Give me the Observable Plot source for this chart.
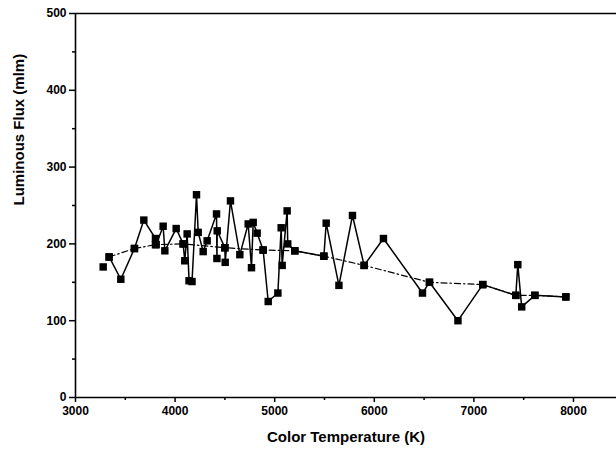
<!DOCTYPE html>
<html>
<head>
<meta charset="utf-8">
<script src="https://cdn.jsdelivr.net/npm/d3@7"></script>
<script src="https://cdn.jsdelivr.net/npm/@observablehq/plot@0.6"></script>
<style>
  html, body { margin: 0; padding: 0; background: #fff; }
  #chart { width: 616px; height: 456px; overflow: hidden; }
</style>
</head>
<body>
<div id="chart"></div>
<script>
// Series drawn with a solid line (color temperature K, luminous flux mlm)
const solidTemp = [3338, 3455, 3592, 3686, 3803, 3810, 3880, 3897, 4011, 4081, 4097, 4121, 4140, 4170, 4215, 4232, 4282, 4322, 4416, 4420, 4423, 4500, 4503, 4556, 4650, 4734, 4767, 4784, 4824, 4884, 4935, 5032, 5065, 5075, 5125, 5131, 5202, 5494, 5517, 5645, 5781, 5898, 6092, 6484, 6554, 6840, 7089, 7421, 7441, 7480, 7612, 7923];
const solidFlux = [183, 154, 194, 231, 207, 199, 223, 191, 220, 200, 178, 213, 152, 151, 264, 215, 190, 204, 239, 181, 217, 195, 176, 256, 186, 226, 169, 228, 214, 192, 125, 136, 221, 172, 243, 200, 191, 184, 227, 146, 237, 172, 207, 136, 150, 100, 147, 133, 173, 118, 133, 131];
// Series drawn with a dash-dot line
const dashTemp = [3338, 3592, 3803, 4081, 4500, 4884, 5202, 5494, 5898, 6554, 7089, 7421, 7612, 7923];
const dashFlux = [183, 194, 199, 200, 195, 192, 191, 184, 172, 150, 147, 133, 133, 131];
// Isolated first point
const loneTemp = [3278];
const loneFlux = [170];
// Axis ticks
const xMajorTicks = [3000, 4000, 5000, 6000, 7000, 8000];
const xMinorTicks = [3500, 4500, 5500, 6500, 7500];
const yMajorTicks = [0, 100, 200, 300, 400, 500];
const yMinorTicks = [50, 150, 250, 350, 450];
const xTitle = "Color Temperature (K)";
const yTitle = "Luminous Flux (mlm)";

const solid = solidTemp.map((t, i) => ({t, v: solidFlux[i]}));
const dashed = dashTemp.map((t, i) => ({t, v: dashFlux[i]}));
const lone = loneTemp.map((t, i) => ({t, v: loneFlux[i]}));

const font = "'Liberation Sans', Arial, Helvetica, sans-serif";

const chart = Plot.plot({
  width: 616,
  height: 456,
  marginLeft: 75,
  marginRight: 0,
  marginTop: 13,
  marginBottom: 59,
  style: {fontFamily: font, fontWeight: "bold", fontSize: "12px", color: "#000", background: "#fff"},
  x: {domain: [3000, 8432], label: null},
  y: {domain: [0, 500], label: null},
  marks: [
    Plot.axisX(xMajorTicks, {tickSize: 5, tickPadding: 4, tickFormat: d3.format("d"), strokeWidth: 1.5, fontSize: 12, fontWeight: "bold"}),
    Plot.axisX(xMinorTicks, {tickSize: 3, tickFormat: () => "", strokeWidth: 1.5}),
    Plot.axisY(yMajorTicks, {tickSize: 6, tickPadding: 3, tickFormat: d3.format("d"), strokeWidth: 1.5, fontSize: 12, fontWeight: "bold"}),
    Plot.axisY(yMinorTicks, {tickSize: 3, tickFormat: () => "", strokeWidth: 1.5}),
    Plot.ruleY([0], {stroke: "#000", strokeWidth: 1.6}),
    Plot.ruleY([500], {stroke: "#000", strokeWidth: 1.6}),
    Plot.ruleX([3000], {stroke: "#000", strokeWidth: 1.6}),
    Plot.line(dashed, {x: "t", y: "v", stroke: "#000", strokeWidth: 1.2, strokeDasharray: "6,3,1.5,3"}),
    Plot.line(solid, {x: "t", y: "v", stroke: "#000", strokeWidth: 1.5}),
    Plot.dot(solid, {x: "t", y: "v", symbol: "square", r: 4.2, fill: "#000", stroke: "none"}),
    Plot.dot(dashed, {x: "t", y: "v", symbol: "square", r: 4.2, fill: "#000", stroke: "none"}),
    Plot.dot(lone, {x: "t", y: "v", symbol: "square", r: 4.2, fill: "#000", stroke: "none"}),
    Plot.text([xTitle], {frameAnchor: "bottom", dy: 44, fontSize: 15, fontWeight: "bold", fill: "#000"}),
    Plot.text([yTitle], {frameAnchor: "left", dx: -56, rotate: -90, fontSize: 15, fontWeight: "bold", fill: "#000"})
  ]
});
document.getElementById("chart").appendChild(chart);
</script>
</body>
</html>
